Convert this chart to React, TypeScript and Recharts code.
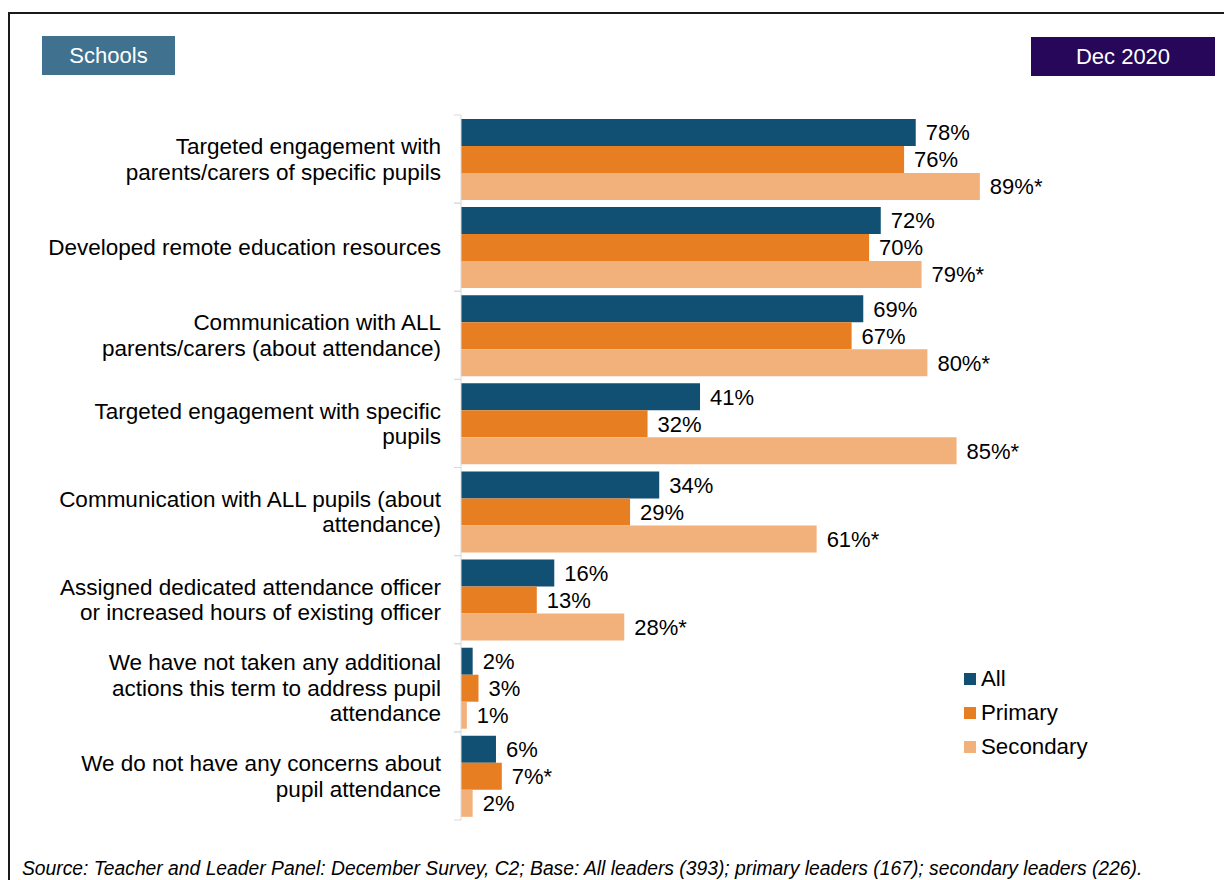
import React from 'react';
import { BarChart, Bar, XAxis, YAxis, LabelList } from 'recharts';

const categories = [
  ['Targeted engagement with', 'parents/carers of specific pupils'],
  ['Developed remote education resources'],
  ['Communication with ALL', 'parents/carers (about attendance)'],
  ['Targeted engagement with specific', 'pupils'],
  ['Communication with ALL pupils (about', 'attendance)'],
  ['Assigned dedicated attendance officer', 'or increased hours of existing officer'],
  ['We have not taken any additional', 'actions this term to address pupil', 'attendance'],
  ['We do not have any concerns about', 'pupil attendance'],
];

const allValues = [78, 72, 69, 41, 34, 16, 2, 6];
const primaryValues = [76, 70, 67, 32, 29, 13, 3, 7];
const secondaryValues = [89, 79, 80, 85, 61, 28, 1, 2];

// significance markers shown after the percentage
const allMarks = ['', '', '', '', '', '', '', ''];
const primaryMarks = ['', '', '', '', '', '', '', '*'];
const secondaryMarks = ['*', '*', '*', '*', '*', '*', '', ''];

const seriesNames = ['All', 'Primary', 'Secondary'];
const colors = ['#114F73', '#E77E21', '#F2B07B'];

const W = 1224;
const H = 880;
const TOP = 115;
const BOTTOM = 60;
const AXIS_W = 461;
const FONT = 'Arial, "Liberation Sans", sans-serif';

const data = categories.map((lines, i) => ({
  name: lines.join(' '),
  all: allValues[i],
  primary: primaryValues[i],
  secondary: secondaryValues[i],
  allLabel: `${allValues[i]}%${allMarks[i]}`,
  primaryLabel: `${primaryValues[i]}%${primaryMarks[i]}`,
  secondaryLabel: `${secondaryValues[i]}%${secondaryMarks[i]}`,
}));

const linesByName = new Map(categories.map((l) => [l.join(' '), l]));
const band = (H - TOP - BOTTOM) / categories.length;

const CategoryTick = (props: any) => {
  const { x, y, payload } = props;
  const lines = linesByName.get(payload.value) || [payload.value];
  const lh = 25.5;
  const start = y - ((lines.length - 1) * lh) / 2;
  return (
    <g>
      <line x1={x + 13} x2={x + 20} y1={y - band / 2} y2={y - band / 2} stroke="#d9d9d9" />
      <line x1={x + 13} x2={x + 20} y1={y + band / 2} y2={y + band / 2} stroke="#d9d9d9" />
      <text textAnchor="end" fontSize={22.5} fontFamily={FONT} fill="#000">
        {lines.map((l: string, i: number) => (
          <tspan key={i} x={x} y={start + i * lh} dy="0.35em">
            {l}
          </tspan>
        ))}
      </text>
    </g>
  );
};

const LegendBox = () => (
  <div style={{ position: 'absolute', left: 964, top: 662, fontFamily: FONT, fontSize: 22.3 }}>
    {seriesNames.map((n, i) => (
      <div key={n} style={{ display: 'flex', alignItems: 'center', height: 34 }}>
        <span style={{ width: 12, height: 12, background: colors[i], marginRight: 5 }} />
        <span>{n}</span>
      </div>
    ))}
  </div>
);

const labelStyle = { fontSize: 22, fontFamily: FONT, fill: '#000' };

export default function App() {
  return (
    <div style={{ position: 'absolute', left: 0, top: 0, width: W, height: H, overflow: 'hidden', background: '#fff' }}>
      <div style={{ position: 'absolute', left: 8, top: 12, width: 1400, height: 1000, border: '2px solid #1a1a1a' }} />
      <div
        style={{
          position: 'absolute', left: 42, top: 36, width: 133, height: 39, background: '#40728F',
          color: '#fff', fontFamily: FONT, fontSize: 22, display: 'flex', alignItems: 'center', justifyContent: 'center',
        }}
      >
        Schools
      </div>
      <div
        style={{
          position: 'absolute', left: 1031, top: 37, width: 184, height: 39, background: '#26075A',
          color: '#fff', fontFamily: FONT, fontSize: 22, display: 'flex', alignItems: 'center', justifyContent: 'center',
        }}
      >
        Dec 2020
      </div>
      <div style={{ position: 'absolute', left: 0, top: 0 }}>
        <BarChart
          width={W}
          height={H}
          data={data}
          layout="vertical"
          margin={{ top: TOP, bottom: BOTTOM, left: 0, right: W - AXIS_W - 583 }}
          barCategoryGap="4.5%"
          barGap={0}
        >
          <XAxis type="number" domain={[0, 100]} hide />
          <YAxis
            type="category"
            dataKey="name"
            width={AXIS_W}
            tickLine={false}
            tickSize={0}
            tickMargin={20}
            axisLine={{ stroke: '#d9d9d9' }}
            tick={<CategoryTick />}
            interval={0}
          />
          <Bar dataKey="all" fill={colors[0]} isAnimationActive={false}>
            <LabelList dataKey="allLabel" position="right" offset={10} style={labelStyle} />
          </Bar>
          <Bar dataKey="primary" fill={colors[1]} isAnimationActive={false}>
            <LabelList dataKey="primaryLabel" position="right" offset={10} style={labelStyle} />
          </Bar>
          <Bar dataKey="secondary" fill={colors[2]} isAnimationActive={false}>
            <LabelList dataKey="secondaryLabel" position="right" offset={10} style={labelStyle} />
          </Bar>
        </BarChart>
      </div>
      <LegendBox />
      <div
        style={{
          position: 'absolute', left: 22, top: 858, fontFamily: FONT, fontSize: 19.3, fontStyle: 'italic',
          color: '#000', whiteSpace: 'nowrap',
        }}
      >
        Source: Teacher and Leader Panel: December Survey, C2; Base: All leaders (393); primary leaders (167); secondary
        leaders (226).
      </div>
    </div>
  );
}
